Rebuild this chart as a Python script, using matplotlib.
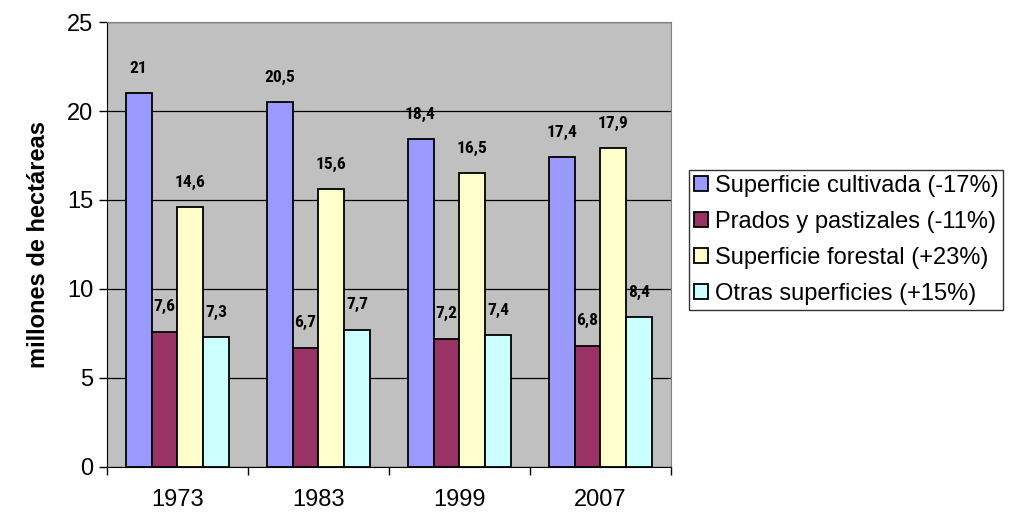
import matplotlib.pyplot as plt
from matplotlib import font_manager
import numpy as np

# datos
years = ['1973', '1983', '1999', '2007']
series = ['Superficie cultivada (-17%)', 'Prados y pastizales (-11%)',
          'Superficie forestal (+23%)', 'Otras superficies (+15%)']
cultivada = [21, 20.5, 18.4, 17.4]
prados = [7.6, 6.7, 7.2, 6.8]
forestal = [14.6, 15.6, 16.5, 17.9]
otras = [7.3, 7.7, 7.4, 8.4]
colors = ['#9999FF', '#993366', '#FFFFCC', '#CCFFFF']

plt.rcParams['font.family'] = ['Liberation Sans', 'DejaVu Sans']

# fuente estrecha para las etiquetas de las barras
names = {f.name for f in font_manager.fontManager.ttflist}
narrow = 'Liberation Sans'
for cand in ['Liberation Sans Narrow', 'Roboto Condensed', 'DejaVu Sans Condensed']:
    if cand in names:
        narrow = cand
        break
lab_size = 12.5 if narrow != 'Liberation Sans' else 10.5

fig = plt.figure(figsize=(10.09, 5.12), dpi=100)
ax = fig.add_axes([0.106, 0.088, 0.559, 0.869])
ax.set_facecolor('#C0C0C0')

x = np.arange(len(years))
w = 0.184
for i, vals in enumerate([cultivada, prados, forestal, otras]):
    pos = x + (i - 1.5) * w
    bars = ax.bar(pos, vals, w, color=colors[i], edgecolor='black',
                  linewidth=1.3, label=series[i], zorder=3)
    for b, v in zip(bars, vals):
        ax.annotate(str(v).replace('.', ','), (b.get_x() + b.get_width() / 2, v),
                    xytext=(0, 18), textcoords='offset points',
                    ha='center', va='center', fontsize=lab_size, fontweight='bold',
                    family=[narrow, 'DejaVu Sans'], zorder=4)

ax.set_xlim(-0.5, 3.5)
ax.set_ylim(0, 25)
ax.set_yticks([0, 5, 10, 15, 20, 25])
ax.yaxis.grid(True, color='black', linewidth=0.9, zorder=0)
ax.set_axisbelow(True)
ax.set_xticks(x)
ax.set_xticklabels(years)
ax.set_xticks(np.arange(-0.5, 4, 1), minor=True)
ax.tick_params(axis='x', which='major', length=0, labelsize=17, pad=16)
ax.tick_params(axis='x', which='minor', length=6, width=1, direction='out')
ax.tick_params(axis='y', length=6, width=1, labelsize=17, pad=4)
for s in ax.spines.values():
    s.set_color('black')
ax.spines['top'].set_color('#808080')
ax.spines['right'].set_color('#808080')
ax.set_ylabel('millones de hectáreas', fontsize=17, fontweight='bold', labelpad=12)

leg = fig.legend(loc='upper left', bbox_to_anchor=(0.683, 0.668), fontsize=17,
                 frameon=True, fancybox=False, edgecolor='black',
                 handlelength=0.6, handleheight=0.6, handletextpad=0.3,
                 labelspacing=0.6, borderpad=0.2, borderaxespad=0)
leg.get_frame().set_linewidth(1)

fig.savefig('out.png', dpi=100)
